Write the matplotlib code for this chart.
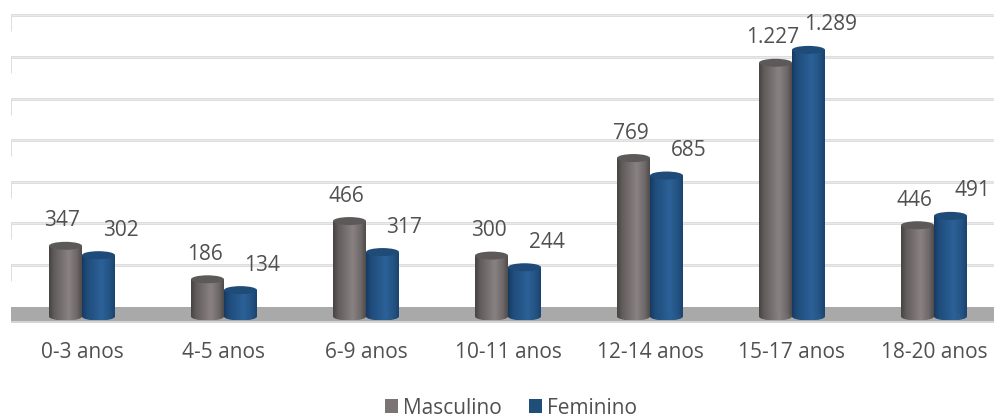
import numpy as np
import matplotlib
matplotlib.use("Agg")
import matplotlib.pyplot as plt
from matplotlib.patches import Rectangle, Ellipse, Patch
from matplotlib.colors import LinearSegmentedColormap

categories = ["0-3 anos", "4-5 anos", "6-9 anos", "10-11 anos", "12-14 anos", "15-17 anos", "18-20 anos"]
masculino = [347, 186, 466, 300, 769, 1227, 446]
feminino = [302, 134, 317, 244, 685, 1289, 491]
series_names = ["Masculino", "Feminino"]

plt.rcParams['font.family'] = ['Open Sans', 'DejaVu Sans']
TXT = "#505050"
FS = 15

W, H = 995, 418
fig = plt.figure(figsize=(W / 100, H / 100), dpi=100)
ax = fig.add_axes([11 / W, (H - 330) / H, 994 / W, 330 / H])
ax.set_xlim(-0.5, 6.5)
ppu = 0.208  # pixels per value unit
ax.set_ylim(-(330 - 314) / ppu, 314 / ppu)
ax.axis('off')

def px2y(px):
    return px / ppu

def px2x(px):
    return px / 142.0

# back wall gridlines (3D offset) with left wall edges
x_left = px2x(-1) - 0.5
for g in np.arange(200, 1401, 200):
    gy = g + px2y(7.5)
    ax.plot([x_left, 7.0], [gy, gy], color="#dadada", lw=2.0, zorder=1, solid_capstyle='butt')
    ax.plot([x_left, 7.0], [gy, gy], color="#ececec", lw=0.6, zorder=1, solid_capstyle='butt')
    ax.plot([x_left, x_left], [gy, gy - px2y(16)], color="#dadada", lw=2.0, zorder=1, solid_capstyle='butt')

# floor band
fl_left = px2x(-2) - 0.5
ax.add_patch(Rectangle((fl_left, px2y(-9)), 8, px2y(16), facecolor="#a9a9a9", edgecolor='none', zorder=2))
ax.add_patch(Rectangle((fl_left, px2y(-9)), 8, px2y(2.5), facecolor="#d4d4d4", edgecolor='none', zorder=2))

bw = 33 / 142.0
cap = px2y(4)
base = px2y(-2.5)

grad_gray = [(0.0, "#474343"), (0.15, "#615b5b"), (0.6, "#8a8282"), (0.85, "#6e6868"), (1.0, "#4f4b4b")]
grad_blue = [(0.0, "#163a60"), (0.15, "#1f4c7a"), (0.6, "#2c6198"), (0.85, "#235382"), (1.0, "#1a4370")]
cap_cols = ["#5e5959", "#1e4b78"]
cmaps = [LinearSegmentedColormap.from_list("g", grad_gray), LinearSegmentedColormap.from_list("b", grad_blue)]

def cylinder(xc, v, k):
    x0, x1 = xc - bw / 2, xc + bw / 2
    top = v - cap
    body = Rectangle((x0, base), bw, top - base, facecolor='none', edgecolor='none')
    bot = Ellipse((xc, base), bw, 2 * cap, facecolor='none', edgecolor='none')
    ax.add_patch(body)
    ax.add_patch(bot)
    grad = np.linspace(0, 1, 200).reshape(1, -1)
    for clip in (body, bot):
        im = ax.imshow(grad, extent=[x0, x1, base - cap, top], aspect='auto',
                       cmap=cmaps[k], origin='lower', zorder=3, interpolation='bilinear')
        im.set_clip_path(clip)
    ax.add_patch(Ellipse((xc, top), bw, 2 * cap, facecolor=cap_cols[k], edgecolor='none', zorder=4))

x = np.arange(len(categories))
for k, vals in enumerate([masculino, feminino]):
    off = (-0.5 + k) * bw
    for i, v in enumerate(vals):
        cylinder(x[i] + off, v, k)
        lab = f"{v:,}".replace(",", ".")
        dx = px2x(-3) if k == 0 else px2x(22)
        ax.text(x[i] + off + dx, v + px2y(21), lab, ha='center', va='center',
                fontsize=FS, color=TXT, zorder=5)

for i, c in enumerate(categories):
    ax.text(x[i], -(353 - 314) / ppu, c, ha='center', va='center', fontsize=FS,
            color=TXT, clip_on=False)

handles = [Patch(facecolor="#7a7474", edgecolor='none'), Patch(facecolor="#1f4e79", edgecolor='none')]
fig.legend(handles, series_names, loc='center', bbox_to_anchor=(511 / W, (H - 408) / H),
           ncol=2, frameon=False, fontsize=FS, labelcolor=TXT, handlelength=0.62,
           handleheight=0.62, handletextpad=0.25, columnspacing=1.3, borderpad=0)

fig.savefig("out.png", dpi=100)
